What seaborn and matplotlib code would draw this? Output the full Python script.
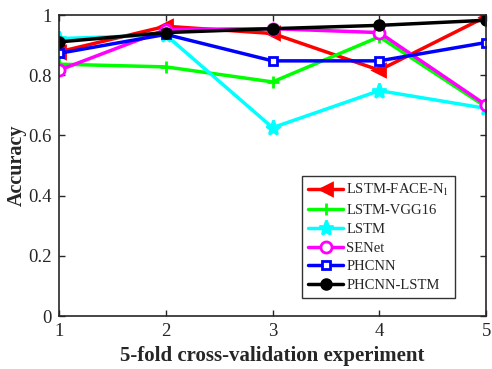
import pandas as pd
import matplotlib
matplotlib.use('Agg')
import matplotlib.pyplot as plt
import seaborn as sns

folds = [1, 2, 3, 4, 5]
lstm_face_n1 = [0.878, 0.963, 0.939, 0.817, 0.995]
lstm_vgg16 = [0.837, 0.828, 0.778, 0.928, 0.695]
lstm = [0.922, 0.934, 0.626, 0.749, 0.690]
senet = [0.817, 0.952, 0.955, 0.942, 0.701]
phcnn = [0.873, 0.936, 0.848, 0.848, 0.909]
phcnn_lstm = [0.911, 0.942, 0.955, 0.966, 0.983]

series = [
    ('LSTM-FACE-N$_1$', lstm_face_n1, '#ff0000', '<', 9),
    ('LSTM-VGG16', lstm_vgg16, '#00ff00', '+', 8),
    ('LSTM', lstm, '#00ffff', '*', 11),
    ('SENet', senet, '#ff00ff', 'o', 8),
    ('PHCNN', phcnn, '#0000ff', 's', 6),
    ('PHCNN-LSTM', phcnn_lstm, '#000000', 'o', 7),
]

sns.set_style('ticks')
plt.rcParams['font.family'] = ['Liberation Serif', 'DejaVu Serif']
plt.rcParams['mathtext.fontset'] = 'stix'

fig = plt.figure(figsize=(4.92, 3.69), dpi=100)
ax = fig.add_axes([0.12, 0.1436, 0.868, 0.8154])

for label, vals, color, marker, ms in series:
    df = pd.DataFrame({'fold': folds, 'acc': vals})
    face = 'white' if label in ('SENet', 'PHCNN') else color
    sns.lineplot(data=df, x='fold', y='acc', ax=ax, color=color, linewidth=2.5,
                 marker=marker, markersize=ms, markerfacecolor=face,
                 markeredgecolor=color, markeredgewidth=2, label=label)

ax.set_xlim(1, 5)
ax.set_ylim(0, 1)
ax.set_xticks(folds)
ax.set_yticks([0, 0.2, 0.4, 0.6, 0.8, 1])
ax.set_yticklabels(['0', '0.2', '0.4', '0.6', '0.8', '1'])
ax.tick_params(direction='in', top=True, right=True, labelsize=13.5, length=4,
               width=1, colors='#262626', pad=5)
for s in ax.spines.values():
    s.set_linewidth(1.2)
    s.set_color('#262626')

ax.set_xlabel('5-fold cross-validation experiment', fontsize=15, fontweight='bold')
ax.set_ylabel('Accuracy', fontsize=14.5, fontweight='bold', labelpad=1)

leg = ax.legend(loc='lower right', bbox_to_anchor=(0.927, 0.06), borderaxespad=0,
                fontsize=10.5, frameon=True, fancybox=False, edgecolor='black',
                handlelength=2.4, labelspacing=0.38, borderpad=0.4, handletextpad=0.2)
leg.get_frame().set_linewidth(1.0)

fig.savefig('out.png', dpi=100)
